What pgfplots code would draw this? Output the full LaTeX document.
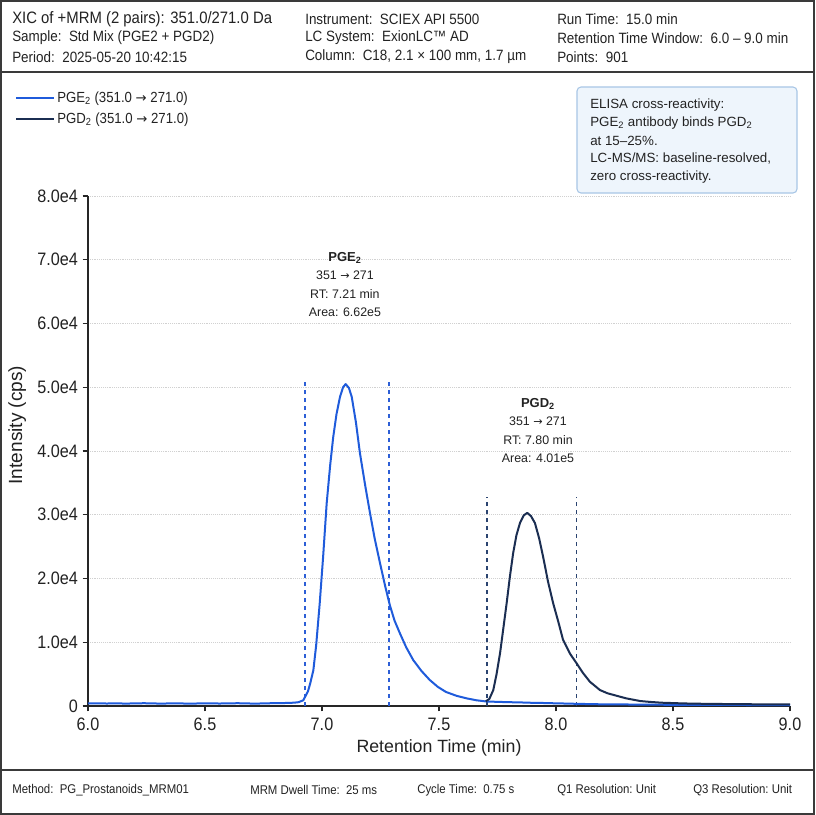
\documentclass[border=0pt]{standalone}
\usepackage{fontspec}
\setmainfont{Liberation Sans}
\newfontfamily\narrow[FakeStretch=0.9]{Liberation Sans}
\newfontfamily\arr[Scale=0.9]{DejaVu Sans}
\usepackage{pgfplots}
\pgfplotsset{compat=1.18}

\definecolor{pgeblue}{HTML}{1F5BDB}
\definecolor{pgdnavy}{HTML}{1B2E52}
\definecolor{pgedash}{HTML}{2D5FD6}
\definecolor{pgddash}{HTML}{2B4470}
\definecolor{txt}{HTML}{222222}
\definecolor{framec}{HTML}{3A3A3A}
\definecolor{boxfill}{HTML}{EEF5FC}
\definecolor{boxedge}{HTML}{A8C6E6}

\newcommand{\ra}{{\arr →}}

% PGE2 trace (time in min, intensity in cps)
\pgfplotstableread{
t I
6.00 400
6.04 430
6.08 390
6.12 420
6.16 380
6.20 410
6.24 440
6.28 400
6.32 380
6.36 420
6.40 400
6.44 370
6.48 410
6.52 430
6.56 390
6.60 410
6.64 440
6.68 400
6.72 380
6.76 420
6.80 450
6.84 470
6.88 520
6.90 600
6.92 900
6.94 2300
6.95 3600
6.963 5600
6.975 9500
6.99 16000
7.005 23500
7.02 31800
7.035 37800
7.048 42200
7.062 45800
7.077 48500
7.09 50000
7.101 50500
7.115 49900
7.127 48500
7.145 44500
7.162 39700
7.185 34500
7.205 30300
7.225 26300
7.248 22400
7.27 18800
7.29 15800
7.31 13400
7.333 11400
7.36 9200
7.39 7200
7.425 5500
7.46 4100
7.495 3000
7.53 2200
7.575 1600
7.618 1200
7.66 900
7.70 720
7.75 650
7.80 600
7.85 560
7.90 500
7.95 470
8.00 420
8.05 380
8.10 330
8.15 300
8.20 260
8.30 240
8.40 210
8.50 190
8.60 180
8.70 170
8.80 160
8.90 150
9.00 150
}\pgetable

% PGD2 trace
\pgfplotstableread{
t I
7.70 750
7.715 1100
7.732 2500
7.746 5000
7.761 8300
7.775 12200
7.789 16100
7.803 20300
7.817 24000
7.831 26800
7.846 28700
7.862 29900
7.877 30300
7.893 29800
7.91 28700
7.928 26300
7.945 23400
7.966 19500
7.988 16100
8.01 13200
8.03 10400
8.06 8200
8.088 6700
8.115 5200
8.145 3800
8.188 2500
8.22 2000
8.25 1700
8.30 1200
8.36 780
8.40 650
8.45 520
8.50 460
8.55 400
8.60 370
8.65 330
8.70 320
8.80 280
8.90 270
9.00 250
}\pgdtable

\begin{document}
\begin{tikzpicture}
\useasboundingbox (0,0) rectangle (611.25pt,-611.25pt);
\fill[white] (0,0) rectangle (611.25pt,-611.25pt);

\begin{axis}[
  at={(66pt,-529.5pt)}, anchor=south west,
  scale only axis, width=526.5pt, height=382.5pt,
  xmin=6, xmax=9, ymin=0, ymax=80000,
  axis x line*=bottom, axis y line*=left,
  axis line style={-, line width=1.1pt, black!85},
  xtick={6,6.5,7,7.5,8,8.5,9},
  xticklabels={6.0,6.5,7.0,7.5,8.0,8.5,9.0},
  ytick={0,10000,20000,30000,40000,50000,60000,70000,80000},
  yticklabels={0,1.0e4,2.0e4,3.0e4,4.0e4,5.0e4,6.0e4,7.0e4,8.0e4},
  scaled y ticks=false,
  tick align=outside, major tick length=4pt,
  tick style={line width=1pt, black!85},
  ticklabel style={font=\narrow\fontsize{13.5}{15}\selectfont, text=txt},
  xticklabel style={yshift=-1.5pt},
  ymajorgrids, grid style={densely dotted, black!18, line width=0.6pt},
  xlabel={Retention Time (min)}, ylabel={Intensity (cps)},
  xlabel style={font=\fontsize{13.3}{15}\selectfont, text=txt, at={(axis description cs:0.5,-0.082)}, anchor=center},
  ylabel style={font=\fontsize{14.3}{16}\selectfont, text=txt, at={(axis description cs:-0.101,0.551)}, anchor=center},
  legend style={at={(-0.104,1.21)}, anchor=north west, draw=none, fill=none,
    font=\narrow\fontsize{11}{13}\selectfont, text=txt, row sep=2pt, inner sep=0pt},
  legend cell align=left,
  legend image code/.code={\draw[#1] (0pt,0pt) -- (28pt,0pt);},
  clip=false,
]
\addplot[pgedash, line width=0.9pt, dash pattern=on 3pt off 3pt, forget plot] coordinates {(6.927,0) (6.927,51100)};
\addplot[pgedash, line width=0.9pt, dash pattern=on 3pt off 3pt, forget plot] coordinates {(7.286,0) (7.286,51100)};
\addplot[pgddash, line width=0.9pt, dash pattern=on 3pt off 3pt, forget plot] coordinates {(7.705,0) (7.705,32800)};
\addplot[pgddash, line width=0.9pt, dash pattern=on 3pt off 3pt, forget plot] coordinates {(8.087,0) (8.087,32800)};

\addplot[pgeblue, line width=1.5pt, line join=round] table[x=t, y=I] {\pgetable};
\addlegendentry{PGE\textsubscript{2} (351.0 \ra\ 271.0)}
\addplot[pgdnavy, line width=1.5pt, line join=round] table[x=t, y=I] {\pgdtable};
\addlegendentry{PGD\textsubscript{2} (351.0 \ra\ 271.0)}

\node[font=\bfseries\fontsize{9.75}{11}\selectfont, text=txt] at (axis cs:7.098,70300) {PGE\textsubscript{2}};
\node[font=\fontsize{9.3}{11}\selectfont, text=txt] at (axis cs:7.098,67600) {351 \ra\ 271};
\node[font=\fontsize{9.3}{11}\selectfont, text=txt] at (axis cs:7.098,64600) {RT: 7.21 min};
\node[font=\fontsize{9.3}{11}\selectfont, text=txt] at (axis cs:7.098,61800) {Area: 6.62e5};

\node[font=\bfseries\fontsize{9.75}{11}\selectfont, text=txt] at (axis cs:7.923,47400) {PGD\textsubscript{2}};
\node[font=\fontsize{9.3}{11}\selectfont, text=txt] at (axis cs:7.923,44700) {351 \ra\ 271};
\node[font=\fontsize{9.3}{11}\selectfont, text=txt] at (axis cs:7.923,41700) {RT: 7.80 min};
\node[font=\fontsize{9.3}{11}\selectfont, text=txt] at (axis cs:7.923,38900) {Area: 4.01e5};
\end{axis}

\begin{scope}[x=0.75pt, y=-0.75pt]
% frame and dividers
\draw[framec, line width=1.4pt] (1,1) rectangle (814,814);
\draw[framec, line width=1.1pt] (0,72) -- (815,72);
\draw[framec, line width=1.1pt] (0,770) -- (815,770);

% header
\begin{scope}[every node/.style={anchor=west, inner sep=0pt, text=txt, font=\narrow\fontsize{11.2}{13}\selectfont}]
\node[font=\narrow\fontsize{12.4}{14}\selectfont] at (12,19) {XIC of +MRM (2 pairs): 351.0/271.0 Da};
\node at (12,38) {Sample:\ \ Std Mix (PGE2 + PGD2)};
\node at (12,57) {Period:\ \ 2025-05-20 10:42:15};
\node at (305,19) {Instrument:\ \ SCIEX API 5500};
\node at (305,38) {LC System:\ \ ExionLC™ AD};
\node at (305,57) {Column:\ \ C18, 2.1 × 100 mm, 1.7 µm};
\node at (557,19) {Run Time:\ \ 15.0 min};
\node at (557,38) {Retention Time Window:\ \ 6.0 – 9.0 min};
\node at (557,57) {Points:\ \ 901};
\end{scope}

% note box
\draw[boxedge, fill=boxfill, line width=0.8pt, rounded corners=3pt] (577,87) rectangle (797,193);
\begin{scope}[every node/.style={anchor=west, inner sep=0pt, text=txt, font=\fontsize{10}{12}\selectfont}]
\node at (590,105) {ELISA cross-reactivity:};
\node at (590,123) {PGE\textsubscript{2} antibody binds PGD\textsubscript{2}};
\node at (590,141) {at 15–25\%.};
\node at (590,159) {LC-MS/MS: baseline-resolved,};
\node at (590,177) {zero cross-reactivity.};
\end{scope}

% footer
\begin{scope}[every node/.style={anchor=west, inner sep=0pt, text=txt, font=\narrow\fontsize{9.5}{11}\selectfont}]
\node at (12,790) {Method:\ \ PG\_Prostanoids\_MRM01};
\node at (250,790) {MRM Dwell Time:\ \ 25 ms};
\node at (417,790) {Cycle Time:\ \ 0.75 s};
\node at (557,790) {Q1 Resolution:\ Unit};
\node at (693,790) {Q3 Resolution:\ Unit};
\end{scope}
\end{scope}
\end{tikzpicture}
\end{document}
